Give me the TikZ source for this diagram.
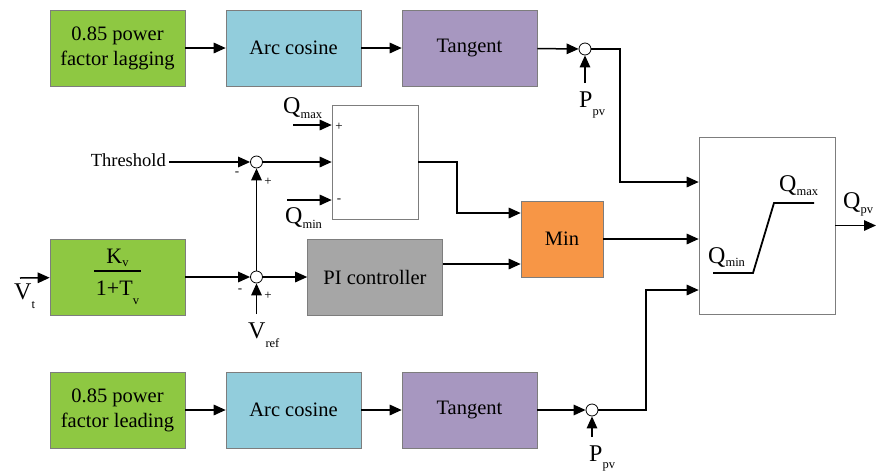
\documentclass[tikz,border=0pt]{standalone}
\usepackage{fontspec}
\setmainfont{Liberation Serif}
\usetikzlibrary{arrows.meta}

\definecolor{boxgreen}{RGB}{142,200,66}
\definecolor{boxblue}{RGB}{146,205,220}
\definecolor{boxpurple}{RGB}{167,151,192}
\definecolor{boxgrey}{RGB}{166,166,166}
\definecolor{boxorange}{RGB}{247,150,70}
\definecolor{edgegrey}{RGB}{125,125,125}

\newcommand{\sub}[2][5pt]{\raisebox{-#1}{\fontsize{12.5}{13}\selectfont #2}}
\newcommand{\sym}[3][5pt]{{\fontsize{24}{26}\selectfont #2}\sub[#1]{#3}}

\begin{document}
\begin{tikzpicture}[x=1pt,y=-1pt,
    arr/.style={-{Triangle[length=12pt,width=10.5pt]},line width=1.5pt}]

        \useasboundingbox (0,0) rectangle (876,472);

        % coloured blocks
        \begin{scope}[every node/.style={draw=edgegrey,line width=0.6pt,
            minimum width=135,minimum height=76,align=center,
            font=\fontsize{20.5}{25}\selectfont}]
          \node[fill=boxgreen]  (lag)   at (117.5,48)  {0.85 power\\factor lagging};
          \node[fill=boxblue]   (acos1) at (293.5,48)  {Arc cosine};
          \node[fill=boxpurple] (tan1)  at (469.5,48)  {Tangent};
          \node[fill=boxgreen,font=\fontsize{22}{26}\selectfont] (kv) at (117.5,277)
            {K\sub[3pt]{v}\\[-18pt]\rule{47pt}{1.2pt}\\[-2pt]1+T\sub[9pt]{v}};
          \node[fill=boxgrey]   (pi)    at (375,277)   {PI controller};
          \node[fill=boxorange,minimum width=82] (min) at (562,239) {Min};
          \node[fill=boxgreen]  (lead)  at (117.5,410) {0.85 power\\factor leading};
          \node[fill=boxblue]   (acos2) at (293.5,410) {Arc cosine};
          \node[fill=boxpurple] (tan2)  at (469.5,410) {Tangent};
          \node[fill=white,minimum width=86,minimum height=114] (lim) at (375,162) {};
          \node[fill=white,minimum width=136,minimum height=177] (sat) at (767,225.5) {};
        \end{scope}

        % summing points
        \begin{scope}[every node/.style={circle,draw,line width=0.8pt,fill=white,
            minimum size=12,inner sep=0pt}]
          \node (sumtop) at (585,49)    {};
          \node (sumthr) at (256.5,162) {};
          \node (sumref) at (256.5,277) {};
          \node (sumbot) at (592,410)   {};
        \end{scope}

        % signals
        \begin{scope}[every node/.style={anchor=base west,inner sep=8pt}]
          \node (qmaxlim) at (275,113) {\sym{Q}{max}};
          \node (qminlim) at (277,223) {\sym{Q}{min}};
          \node (vt)      at (6,299)   {\sym[9pt]{V}{t}};
          \node (vref)    at (240,338) {\sym[9pt]{V}{ref}};
          \node (pptop)   at (571,107) {\sym[8pt]{P}{pv}};
          \node (ppbot)   at (581,461) {\sym[7pt]{P}{pv}};
          \node (qmaxsat) at (771,191) {\sym[4pt]{Q}{max}};
          \node (qminsat) at (700,263) {\sym[3pt]{Q}{min}};
          \node (qpv)     at (835,208) {\sym{Q}{pv}};
          \node[anchor=base east,inner sep=3pt,font=\fontsize{18.5}{20}\selectfont]
            (thr) at (169,166) {Threshold};
        \end{scope}

        \begin{scope}[every node/.style={inner sep=0pt,font=\fontsize{13}{13}\selectfont}]
          \node (m1) at (237,174) {-};
          \node (p1) at (268,182) {+};
          \node (m2) at (240,291) {-};
          \node (p2) at (268,296) {+};
          \node (p3) at (339,127) {+};
          \node (m3) at (339,201) {-};
        \end{scope}

        \coordinate (vtin)   at (20,278);
        \coordinate (qmaxin) at (293,125);
        \coordinate (qminin) at (287,200);
        \coordinate (qout)   at (876,225.5);

        % straight connectors
        \begin{scope}[every edge/.style={draw,arr}]
          \path (lag)    edge (acos1);
          \path (acos1)  edge (tan1);
          \path (tan1)   edge (sumtop);
          \path (lead)   edge (acos2);
          \path (acos2)  edge (tan2);
          \path (tan2)   edge (sumbot);
          \path (vtin)   edge (kv);
          \path (kv)     edge (sumref);
          \path (sumref) edge (pi);
          \path (sumref) edge (sumthr);
          \path (sumthr) edge (sumthr -| lim.west);
          \path (qmaxin) edge (qmaxin -| lim.west);
          \path (qminin) edge (qminin -| lim.west);
          \path (min)    edge (min -| sat.west);
          \path (sat)    edge (qout);
          \path (thr.east |- sumthr) edge (sumthr);
          \path (pptop.north -| sumtop) edge (sumtop);
          \path (ppbot.north -| sumbot) edge (sumbot);
          \path (vref.north -| sumref)  edge (sumref);
        \end{scope}

        % bent connectors
        \draw[arr] (sumtop) -- (620,49) |- ([yshift=43.5pt]sat.west);
        \draw[arr] (sumbot) -- (646,410) |- ([yshift=-64.5pt]sat.west);
        \draw[arr] (lim.east) -- (457,162) |- ([yshift=26pt]min.west);
        \draw[arr] ([yshift=13pt]pi.east) -- ([yshift=-25pt]min.west);

        % limiter characteristic
        \draw[line width=1.8pt] (713,273) -- (753,273) -- (774,203) -- (814,203);

      \end{tikzpicture}
\end{document}
